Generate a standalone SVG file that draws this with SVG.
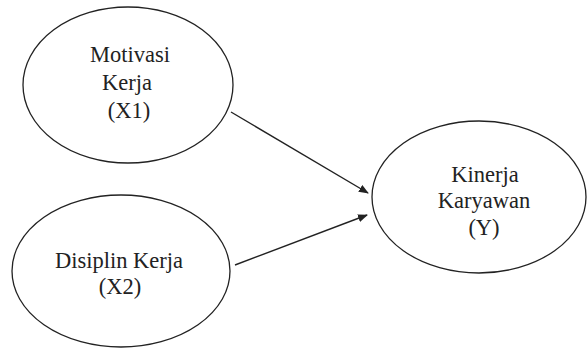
<svg xmlns="http://www.w3.org/2000/svg" width="587" height="348" viewBox="0 0 587 348">
<defs>
<style>
.node ellipse{fill:#fff;stroke:#222;stroke-width:1.3}
.node text{font-family:"Liberation Serif","Times New Roman",serif;font-size:22.5px;fill:#222;text-anchor:middle}
.conn line{stroke:#222;stroke-width:1.4;marker-end:url(#ah)}
</style>
<marker id="ah" markerWidth="10" markerHeight="8" refX="9" refY="4" orient="auto" markerUnits="userSpaceOnUse">
<path d="M0,0 L10,4 L0,8 Z" fill="#222"/>
</marker>
</defs>
<rect width="587" height="348" fill="#fff"/>
<g id="x1" class="node">
<ellipse cx="128" cy="85" rx="105" ry="78"/>
<text x="130" y="62">Motivasi</text>
<text x="127" y="90">Kerja</text>
<text x="129" y="118">(X1)</text>
</g>
<g id="x2" class="node">
<ellipse cx="121" cy="271" rx="109" ry="76"/>
<text x="119" y="268">Disiplin Kerja</text>
<text x="120" y="294">(X2)</text>
</g>
<g id="y" class="node">
<ellipse cx="479" cy="197" rx="107" ry="76"/>
<text x="485" y="182">Kinerja</text>
<text x="484" y="208">Karyawan</text>
<text x="484" y="235">(Y)</text>
</g>
<g id="connectors" class="conn">
<line x1="231" y1="112" x2="368" y2="193"/>
<line x1="235" y1="265" x2="367" y2="215"/>
</g>
</svg>
